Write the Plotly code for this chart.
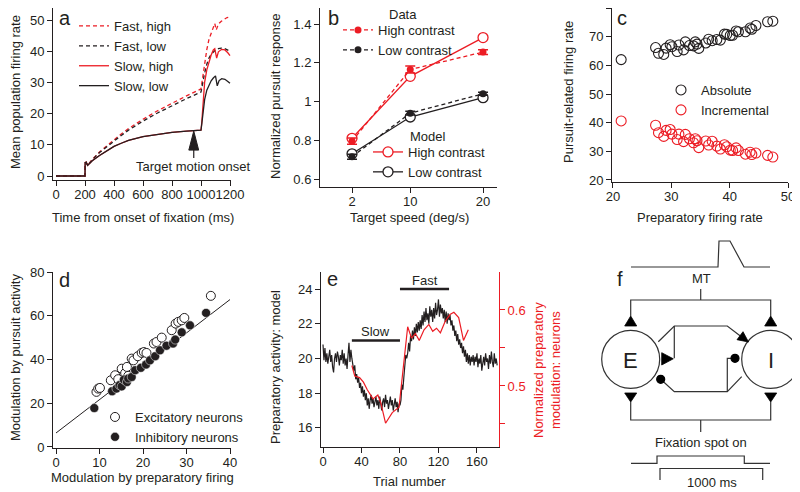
import plotly.graph_objects as go

W, H = 800, 492
OFF = 8  # page body margin: the figure lands 8px right/down of the window origin
DK = "#231f20"
RED = "#ec1c24"
FONT = "Liberation Sans, Arial, Helvetica, sans-serif"

# ---- panel a: population firing rate vs time
t_pre = [0, 200, 201, 208, 218, 250, 300, 350, 400, 450, 500, 600, 700, 800, 900, 1000]
slow_pre = [0, 0, 4.2, 4.4, 3.4, 4.9, 6.6, 8.1, 9.5, 10.5, 11.4, 12.6, 13.4, 14.0, 14.4, 14.7]
fast_low_pre = [0, 0, 4.2, 4.4, 3.4, 5.2, 7.5, 9.4, 11.2, 13.0, 14.7, 17.6, 20.2, 22.6, 24.8, 26.9]
fast_high_pre = [0, 0, 4.2, 4.4, 3.4, 5.3, 7.7, 9.7, 11.6, 13.5, 15.2, 18.2, 20.9, 23.4, 25.7, 27.9]

t_slow_high = [1005, 1015, 1025, 1040, 1055, 1070, 1085, 1095, 1108, 1120, 1142, 1165, 1185, 1200]
slow_high_post = [17.0, 24.5, 30.0, 34.0, 36.8, 38.8, 40.4, 40.8, 37.8, 39.8, 40.6, 40.4, 39.5, 38.6]
t_slow_low = [1005, 1015, 1025, 1040, 1055, 1070, 1085, 1100, 1112, 1125, 1143, 1165, 1185, 1200]
slow_low_post = [16.5, 21.0, 24.5, 27.5, 29.3, 30.5, 31.4, 32.1, 28.9, 30.6, 31.2, 31.0, 30.3, 29.7]
t_fast_high = [1010, 1025, 1040, 1055, 1070, 1085, 1095, 1105, 1120, 1140, 1160, 1180, 1200]
fast_high_post = [31.5, 36.5, 40.5, 43.8, 46.0, 47.8, 48.9, 46.8, 48.7, 49.6, 50.3, 50.8, 51.0]
t_fast_low = [1010, 1025, 1040, 1055, 1070, 1085, 1100, 1120, 1140, 1160, 1180, 1200]
fast_low_post = [29.5, 33.0, 35.8, 37.8, 39.0, 39.8, 40.4, 40.8, 41.0, 40.9, 40.5, 40.0]

# ---- panel b: pursuit response vs target speed
speeds = [2, 10, 20]
data_high = [0.795, 1.165, 1.255]
data_high_err = [0.016, 0.018, 0.012]
data_low = [0.715, 0.940, 1.040]
data_low_err = [0.013, 0.010, 0.008]
model_high = [0.81, 1.13, 1.33]
model_low = [0.73, 0.92, 1.02]

# ---- panel c: pursuit-related vs preparatory firing
prep = [21.4, 27.3, 27.8, 28.7, 29.1, 29.8, 30.1, 31.0, 31.3, 32.1, 32.4, 33.1, 33.8, 34.1, 34.4, 34.7,
        35.9, 36.4, 37.0, 37.8, 38.4, 39.1, 39.5, 40.1, 40.5, 41.1, 41.5, 42.7, 43.5, 43.8, 44.5, 46.5, 47.4]
absolute = [62.0, 66.2, 64.2, 63.8, 66.0, 67.2, 66.5, 64.8, 67.1, 65.4, 68.2, 66.9, 66.8, 68.2, 67.4, 65.9,
            67.8, 69.1, 68.6, 69.0, 68.8, 70.9, 70.8, 70.4, 70.5, 72.0, 71.7, 71.7, 73.0, 72.6, 73.9, 75.2, 75.4]
incremental = [40.6, 39.1, 36.5, 35.2, 37.3, 37.6, 36.0, 34.1, 36.0, 33.4, 35.9, 34.4, 33.0, 34.4, 33.7, 31.3,
               33.6, 32.2, 33.5, 31.8, 30.8, 32.3, 31.6, 30.4, 30.3, 31.2, 30.3, 29.0, 29.7, 28.9, 29.4, 28.6, 28.0]

# ---- panel d: modulation scatter
exc_x = [9.3, 9.7, 10.1, 12.6, 13.6, 14.3, 15.1, 15.9, 16.3, 16.6, 17.4, 17.8, 18.8, 19.7, 20.2, 20.8,
         22.5, 23.1, 24.3, 26.6, 27.5, 28.1, 28.9, 29.5, 35.6]
exc_y = [25.2, 26.7, 27.0, 30.5, 32.8, 31.0, 35.8, 33.8, 36.6, 32.5, 40.4, 39.6, 41.5, 43.0, 43.4, 43.0,
         47.3, 48.0, 50.0, 53.4, 56.4, 57.2, 57.9, 59.0, 69.1]
inh_x = [8.8, 12.9, 13.9, 14.6, 15.1, 15.6, 16.3, 16.6, 17.4, 18.2, 19.5, 20.7, 21.6, 22.8, 23.9,
         25.4, 26.9, 27.4, 28.9, 30.8, 34.5]
inh_y = [17.8, 25.5, 26.7, 28.3, 27.7, 30.8, 29.7, 31.3, 32.0, 35.1, 36.2, 37.7, 39.6, 41.5, 44.2,
         46.3, 47.3, 49.1, 52.4, 55.6, 61.3]
fit_x = [0, 40]
fit_y = [6.4, 67.4]

# ---- panel e: trial-by-trial preparatory activity
model_act = [
    20.8, 19.9, 20.6, 19.8, 20.3, 19.7, 20.1, 20.5, 19.8, 20.2, 19.5, 19.2, 20.0, 20.3, 19.8,
    20.4, 20.1, 19.6, 20.2, 19.9, 20.5, 19.7, 20.3, 19.6, 20.0, 19.4, 20.2, 20.9, 19.8, 20.5,
    20.0, 19.7, 19.3, 19.6, 18.8, 19.1, 18.6, 18.9, 18.3, 18.6, 18.0, 18.4, 17.8, 18.2, 17.6,
    18.0, 17.3, 17.7, 17.1, 17.6,
    17.9, 17.4, 17.7, 17.2, 17.6, 17.8, 17.3, 17.6, 17.1, 17.8, 17.4, 17.0, 17.5, 17.7, 17.2,
    17.9, 17.4, 17.6, 17.1, 17.5, 17.8, 17.3, 17.6, 17.0, 17.4, 17.7, 17.2, 17.5, 16.9, 17.4,
    17.3, 17.6,
    18.5, 18.2, 18.9, 19.6, 20.2, 20.0, 20.3, 20.9, 20.4, 21.3, 21.0, 21.6, 21.1, 21.8, 21.3,
    22.0, 21.5, 22.1, 21.6,
    22.2, 21.7, 22.5, 21.9, 22.7, 22.1, 22.9, 22.2, 22.6, 22.0, 23.0, 22.4, 22.8, 22.1, 22.9,
    22.3, 23.2, 22.5, 22.8, 23.4, 22.4, 23.1, 22.6, 22.9, 22.3, 22.8, 22.1, 22.7, 22.0, 22.6,
    22.2, 22.5, 21.9, 22.2, 21.6, 21.9, 21.3, 21.6, 21.0, 21.4, 20.8, 21.1, 20.6, 20.9, 20.3,
    20.7, 20.1, 20.5, 19.8, 20.3, 19.7, 20.2, 19.6, 20.1, 19.8,
    20.2, 19.6, 20.1, 19.8, 20.3, 19.5, 20.0, 19.7, 20.2, 19.3, 19.9, 20.1, 19.6, 20.3, 19.8,
    20.0, 19.4, 20.2, 19.7, 20.4, 19.8, 19.5, 20.3, 19.7, 20.0, 19.6,
]
trials = list(range(len(model_act)))
neuron_trial = [30, 33, 38, 42, 46, 52, 57, 60, 65, 72, 79, 84, 88, 92, 96, 100, 105, 110, 114, 118,
                122, 127, 132, 136, 141, 146, 151]
neuron_mod = [0.527, 0.513, 0.511, 0.505, 0.495, 0.483, 0.488, 0.478, 0.451, 0.465, 0.472, 0.532, 0.578,
              0.563, 0.569, 0.560, 0.574, 0.581, 0.572, 0.576, 0.570, 0.585, 0.594, 0.597, 0.590, 0.560, 0.574]
slow_block = [30, 80]
fast_block = [80, 131]


# screen pixel -> paper fraction helpers
def X(x):
    return (x - OFF) / W


def Y(y):
    return 1 - (y - OFF) / H


def xd(x0, x1):
    return [max(0.0, X(x0)), min(1.0, X(x1))]


def yd(top, bottom):
    return [max(0.0, Y(bottom)), min(1.0, Y(top))]


def path(points, close=False):
    return "M " + " L ".join(f"{X(x):.5f},{Y(y):.5f}" for x, y in points) + (" Z" if close else "")


fig = go.Figure()

# panel a traces
for name, tp, yp, tq, yq, color, dash in [
    ("Fast, high", t_pre, fast_high_pre, t_fast_high, fast_high_post, RED, "4px,3px"),
    ("Fast, low", t_pre, fast_low_pre, t_fast_low, fast_low_post, DK, "4px,3px"),
    ("Slow, high", t_pre, slow_pre, t_slow_high, slow_high_post, RED, "solid"),
    ("Slow, low", t_pre, slow_pre, t_slow_low, slow_low_post, DK, "solid"),
]:
    fig.add_trace(go.Scatter(x=tp + tq, y=yp + yq, mode="lines", name=name,
                             line=dict(color=color, width=1.3, dash=dash),
                             xaxis="x", yaxis="y", legend="legend"))

# panel b traces
fig.add_trace(go.Scatter(x=speeds, y=model_high, mode="lines+markers", name="High contrast",
                         line=dict(color=RED, width=1.3),
                         marker=dict(symbol="circle", size=10, color="white", line=dict(color=RED, width=1.3)),
                         xaxis="x2", yaxis="y2", legend="legend3"))
fig.add_trace(go.Scatter(x=speeds, y=model_low, mode="lines+markers", name="Low contrast",
                         line=dict(color=DK, width=1.3),
                         marker=dict(symbol="circle", size=10, color="white", line=dict(color=DK, width=1.3)),
                         xaxis="x2", yaxis="y2", legend="legend3"))
fig.add_trace(go.Scatter(x=speeds, y=data_high, mode="lines+markers", name="High contrast",
                         line=dict(color=RED, width=1.3, dash="4px,3px"),
                         marker=dict(symbol="circle", size=7, color=RED),
                         error_y=dict(type="data", array=data_high_err, color=RED, thickness=1.5, width=5),
                         xaxis="x2", yaxis="y2", legend="legend2"))
fig.add_trace(go.Scatter(x=speeds, y=data_low, mode="lines+markers", name="Low contrast",
                         line=dict(color=DK, width=1.3, dash="4px,3px"),
                         marker=dict(symbol="circle", size=7, color=DK),
                         error_y=dict(type="data", array=data_low_err, color=DK, thickness=1.5, width=5),
                         xaxis="x2", yaxis="y2", legend="legend2"))

# panel c traces
fig.add_trace(go.Scatter(x=prep, y=absolute, mode="markers", name="Absolute",
                         marker=dict(symbol="circle-open", size=10, color=DK, line=dict(width=1.1)),
                         xaxis="x3", yaxis="y3", legend="legend4"))
fig.add_trace(go.Scatter(x=prep, y=incremental, mode="markers", name="Incremental",
                         marker=dict(symbol="circle-open", size=10, color=RED, line=dict(width=1.1)),
                         xaxis="x3", yaxis="y3", legend="legend4"))

# panel d traces
fig.add_trace(go.Scatter(x=fit_x, y=fit_y, mode="lines", showlegend=False,
                         line=dict(color=DK, width=1), xaxis="x4", yaxis="y4"))
fig.add_trace(go.Scatter(x=exc_x, y=exc_y, mode="markers", name="Excitatory neurons",
                         marker=dict(symbol="circle", size=9, color="white", line=dict(color=DK, width=1)),
                         xaxis="x4", yaxis="y4", legend="legend5"))
fig.add_trace(go.Scatter(x=inh_x, y=inh_y, mode="markers", name="Inhibitory neurons",
                         marker=dict(symbol="circle", size=9, color=DK, line=dict(color="white", width=0.5)),
                         xaxis="x4", yaxis="y4", legend="legend5"))

# panel e traces
fig.add_trace(go.Scatter(x=neuron_trial, y=neuron_mod, mode="lines", showlegend=False,
                         line=dict(color=RED, width=1.2), xaxis="x5", yaxis="y6"))
fig.add_trace(go.Scatter(x=trials, y=model_act, mode="lines", showlegend=False,
                         line=dict(color=DK, width=1.2), xaxis="x5", yaxis="y5"))
for blk, lvl in [(slow_block, 21.03), (fast_block, 24.0)]:
    fig.add_trace(go.Scatter(x=blk, y=[lvl, lvl], mode="lines", showlegend=False,
                             line=dict(color=DK, width=2.5), xaxis="x5", yaxis="y5"))

_axis = dict(
    showline=True, linecolor=DK, linewidth=1, ticks="outside", ticklen=5, tickwidth=1,
    tickcolor=DK, showgrid=False, zeroline=False, tickfont=dict(size=13, color=DK, family=FONT),
    tickmode="array", automargin=False, tickangle=0,
)


def ax(**kw):
    d = dict(_axis)
    d.update(kw)
    return d


def xax(**kw):
    return ax(ticklabelstandoff=-3, **kw)


def ticks(vals, fmt=str):
    return dict(tickvals=vals, ticktext=[fmt(v) for v in vals])


_leg = dict(bgcolor="rgba(0,0,0,0)", borderwidth=0, xanchor="left", yanchor="top",
            font=dict(size=13, color=DK, family=FONT), tracegroupgap=0)


def leg(x, y, **kw):
    d = dict(_leg)
    d.update(x=X(x), y=Y(y), **kw)
    return d


layout = dict(
    width=W, height=H, margin=dict(l=0, r=0, t=0, b=0),
    paper_bgcolor="white", plot_bgcolor="rgba(0,0,0,0)",
    font=dict(family=FONT, color=DK, size=13),
    showlegend=True,
    xaxis=xax(domain=xd(53, 231), range=[-20.7, 1206.9], anchor="y", **ticks(list(range(0, 1201, 200)))),
    yaxis=ax(domain=yd(8, 180), range=[-1.28, 53.85], anchor="x", **ticks(list(range(0, 51, 10)))),
    xaxis2=xax(domain=xd(320, 497), range=[-2.4, 21.92], anchor="y2", **ticks(speeds)),
    yaxis2=ax(domain=yd(8, 187), range=[0.5587, 1.4826], anchor="x2",
              tickvals=[0.6, 0.8, 1.0, 1.2, 1.4], ticktext=["0.6", "0.8", "1", "1.2", "1.4"]),
    xaxis3=xax(domain=xd(612, 788), range=[19.83, 50.0], anchor="y3", **ticks([20, 30, 40, 50])),
    yaxis3=ax(domain=yd(8, 182), range=[19.3, 80], anchor="x3", **ticks(list(range(20, 81, 10)))),
    xaxis4=xax(domain=xd(53, 231), range=[-0.69, 40.23], anchor="y4", **ticks([0, 10, 20, 30, 40])),
    yaxis4=ax(domain=yd(272, 448), range=[-0.46, 80], anchor="x4", **ticks([0, 20, 40, 60, 80])),
    xaxis5=xax(domain=xd(321, 499), range=[-2.08, 182.9], anchor="y5", **ticks([0, 40, 80, 120, 160])),
    yaxis5=ax(domain=yd(272, 447), range=[14.9, 24.98], anchor="x5", **ticks([16, 18, 20, 22, 24])),
    yaxis6=ax(domain=yd(272, 447), range=[0.4197, 0.65], anchor="x5", overlaying="y5", side="right",
              linecolor=RED, tickcolor=RED, tickfont=dict(size=13, color=RED, family=FONT),
              tickvals=[0.45, 0.5, 0.55, 0.6], ticktext=["", "0.5", "", "0.6"]),
    legend=leg(74, 11),
    legend2=leg(338, 15),
    legend3=leg(368, 137),
    legend4=leg(661, 75),
    legend5=leg(95, 402),
)
fig.update_layout(**layout)


def text(t, x, y, size=13, color=DK, angle=0):
    fig.add_annotation(text=t, x=X(x), y=Y(y), xref="paper", yref="paper", showarrow=False,
                       textangle=angle, xanchor="center", yanchor="middle",
                       font=dict(size=size, color=color, family=FONT))


# axis titles, headers and labels (screen pixels)
for t, x, y, ang in [
    ("Time from onset of fixation (ms)", 143, 218, 0),
    ("Mean population firing rate", 15, 92, -90),
    ("Target speed (deg/s)", 410, 218, 0),
    ("Normalized pursuit response", 275, 97, -90),
    ("Preparatory firing rate", 700, 218, 0),
    ("Pursuit-related firing rate", 568, 92, -90),
    ("Modulation by preparatory firing", 142, 477, 0),
    ("Modulation by pursuit activity", 15, 358, -90),
    ("Trial number", 410, 481, 0),
    ("Preparatory activity: model", 275, 367, -90),
    ("Data", 403, 14, 0),
    ("Model", 428, 136, 0),
    ("Fixation spot on", 701, 442, 0),
    ("1000 ms", 712, 482, 0),
    ("MT", 701, 278, 0),
]:
    text(t, x, y, angle=ang)
text("Normalized preparatory<br>modulation: neurons", 547, 370, color=RED, angle=-90)
for letter, x, y in [("a", 65, 18), ("b", 333, 18), ("c", 622, 18), ("d", 64, 280), ("e", 332, 279), ("f", 620, 279)]:
    text(letter, x, y, size=20)
text("E", 630.7, 360, size=22)
text("I", 770.7, 360, size=22)

# panel a: target motion onset arrow
fig.add_shape(type="path", xref="x", yref="y", path="M 916,8.3 L 950,14.4 L 984,8.3 Z",
              fillcolor=DK, line=dict(color=DK, width=1))
fig.add_shape(type="line", xref="x", yref="y", x0=950, x1=950, y0=8.3, y1=5.8, line=dict(color=DK, width=1.2))
fig.add_annotation(text="Target motion onset", x=945, y=3.2, xref="x", yref="y", showarrow=False,
                   xanchor="center", yanchor="middle", font=dict(size=13, color=DK, family=FONT))

# panel e block labels
fig.add_annotation(text="Slow", x=55, y=21.54, xref="x5", yref="y5", showarrow=False,
                   font=dict(size=13, color=DK, family=FONT))
fig.add_annotation(text="Fast", x=105.5, y=24.5, xref="x5", yref="y5", showarrow=False,
                   font=dict(size=13, color=DK, family=FONT))

# panel f: circuit diagram (screen pixels)
LN = dict(color="#333333", width=1.2)
lines = [
    [(631, 267), (718, 267), (719, 241), (730, 241), (744, 267), (770, 267)],
    [(700.7, 289), (700.7, 300)],
    [(630.7, 316), (630.7, 300), (770.7, 300), (770.7, 316)],
    [(630.7, 402), (630.7, 420), (770.7, 420), (770.7, 402)],
    [(700.7, 420), (700.7, 432)],
    [(631, 463.3), (657, 463.3), (657, 456), (744.3, 456), (744.3, 463.3), (770, 463.3)],
    [(660, 480), (660, 468.5), (762.7, 468.5), (762.7, 480)],
    [(658.3, 341.7), (674.3, 326), (727.3, 326), (741, 336.5)],
    [(674.3, 326), (674.3, 358.3)],
    [(660.7, 379.3), (674.3, 391.7), (727.3, 391.7), (741.7, 376.7)],
    [(727.3, 391.7), (727.3, 358.3), (735, 358.3)],
]
for pts in lines:
    fig.add_shape(type="path", xref="paper", yref="paper", path=path(pts), line=LN)
tris = [
    [(630.7, 316), (624.7, 326), (636.7, 326)],
    [(770.7, 316), (764.7, 326), (776.7, 326)],
    [(624.7, 393), (636.7, 393), (630.7, 402)],
    [(764.7, 393), (776.7, 393), (770.7, 402)],
    [(737, 339.7), (743, 331.7), (748.5, 342)],
    [(661.7, 352.7), (673.3, 358.8), (661.7, 365)],
]
for pts in tris:
    fig.add_shape(type="path", xref="paper", yref="paper", path=path(pts, close=True),
                  fillcolor="black", line=dict(color="black", width=0.8))
for cx, cy, r, fill in [(630.7, 359.3, 29, "white"), (770.7, 359.3, 29, "white"),
                        (660.7, 379.3, 4, "black"), (735, 358.3, 4, "black")]:
    fig.add_shape(type="circle", xref="paper", yref="paper",
                  x0=X(cx - r), x1=X(cx + r), y0=Y(cy + r), y1=Y(cy - r),
                  fillcolor=fill, line=dict(color="#333333" if fill == "white" else "black", width=1.2),
                  layer="below" if fill == "white" else "above")

fig.write_html("out.html")
